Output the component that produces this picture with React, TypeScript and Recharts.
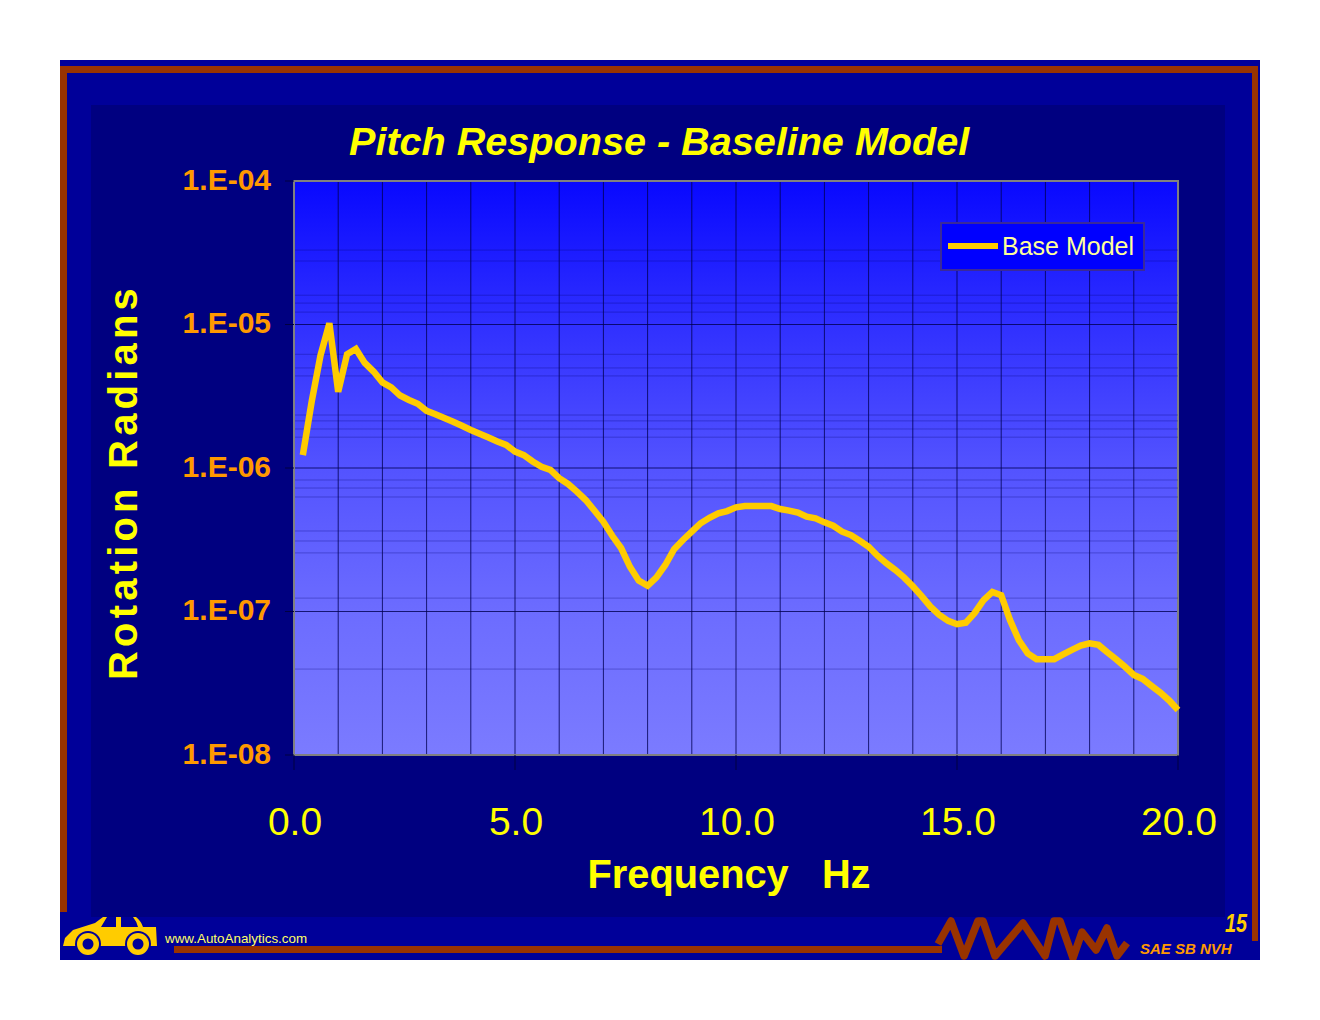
import React from 'react';
import { LineChart, Line, XAxis, YAxis, CartesianGrid, Legend, ReferenceLine, ReferenceArea, Label } from 'recharts';

const frequency = [
  0.2, 0.4, 0.6, 0.8, 1.0, 1.2, 1.4, 1.6, 1.8, 2.0,
  2.2, 2.4, 2.6, 2.8, 3.0, 3.2, 3.4, 3.6, 3.8, 4.0,
  4.2, 4.4, 4.6, 4.8, 5.0, 5.2, 5.4, 5.6, 5.8, 6.0,
  6.2, 6.4, 6.6, 6.8, 7.0, 7.2, 7.4, 7.6, 7.8, 8.0,
  8.2, 8.4, 8.6, 8.8, 9.0, 9.2, 9.4, 9.6, 9.8, 10.0,
  10.2, 10.4, 10.6, 10.8, 11.0, 11.2, 11.4, 11.6, 11.8, 12.0,
  12.2, 12.4, 12.6, 12.8, 13.0, 13.2, 13.4, 13.6, 13.8, 14.0,
  14.2, 14.4, 14.6, 14.8, 15.0, 15.2, 15.4, 15.6, 15.8, 16.0,
  16.2, 16.4, 16.6, 16.8, 17.0, 17.2, 17.4, 17.6, 17.8, 18.0,
  18.2, 18.4, 18.6, 18.8, 19.0, 19.2, 19.4, 19.6, 19.8, 20.0,
];

const baseModel = [
  1.23e-6, 2.9e-6, 6.1e-6, 1.02e-5, 3.4e-6, 6.2e-6, 6.75e-6, 5.4e-6, 4.7e-6, 3.95e-6,
  3.65e-6, 3.2e-6, 2.98e-6, 2.8e-6, 2.5e-6, 2.37e-6, 2.23e-6, 2.1e-6, 1.97e-6, 1.84e-6,
  1.73e-6, 1.63e-6, 1.53e-6, 1.45e-6, 1.3e-6, 1.23e-6, 1.11e-6, 1.02e-6, 9.7e-7, 8.5e-7,
  7.74e-7, 6.84e-7, 5.98e-7, 5.04e-7, 4.22e-7, 3.37e-7, 2.77e-7, 2.05e-7, 1.64e-7, 1.51e-7,
  1.73e-7, 2.11e-7, 2.72e-7, 3.15e-7, 3.6e-7, 4.12e-7, 4.5e-7, 4.83e-7, 5.01e-7, 5.32e-7,
  5.43e-7, 5.43e-7, 5.43e-7, 5.43e-7, 5.18e-7, 5.05e-7, 4.89e-7, 4.58e-7, 4.46e-7, 4.18e-7,
  3.96e-7, 3.6e-7, 3.41e-7, 3.11e-7, 2.83e-7, 2.45e-7, 2.17e-7, 1.95e-7, 1.73e-7, 1.5e-7,
  1.28e-7, 1.08e-7, 9.47e-8, 8.6e-8, 8.15e-8, 8.36e-8, 9.77e-8, 1.2e-7, 1.37e-7, 1.3e-7,
  8.7e-8, 6.3e-8, 5.11e-8, 4.65e-8, 4.65e-8, 4.65e-8, 5.02e-8, 5.4e-8, 5.78e-8, 6e-8,
  5.85e-8, 5.2e-8, 4.65e-8, 4.12e-8, 3.61e-8, 3.39e-8, 3.03e-8, 2.72e-8, 2.4e-8, 2.06e-8,
];

const xTicks = [0, 5, 10, 15, 20];
const xGrid = [1, 2, 3, 4, 5, 6, 7, 8, 9, 10, 11, 12, 13, 14, 15, 16, 17, 18, 19];
const yTicks = [1e-8, 1e-7, 1e-6, 1e-5, 1e-4];
const yTickLabels = ['1.E-08', '1.E-07', '1.E-06', '1.E-05', '1.E-04'];
const yMinorGrid = [
  3.3e-5, 2.77e-5, 1.6e-5, 1.41e-5, 1.22e-5,
  6.2e-6, 4.98e-6, 4.38e-6, 2.34e-6, 2.13e-6, 1.87e-6, 1.64e-6,
  8.25e-7, 7.25e-7, 6.28e-7, 3.64e-7, 3.1e-7, 2.56e-7, 1.24e-7,
  3.97e-8,
];

const chartData = frequency.map((f, i) => ({ f, base: baseModel[i] }));

const FONT = '"Liberation Sans", Arial, sans-serif';
const RUST = '#993300';
const SLIDE = '#000099';
const NAVY = '#000080';

// slide frame, zigzag and little car behind the chart
const SlideBackground = () => (
  <svg width={1320} height={1020} style={{ position: 'absolute', left: 0, top: 0 }}>
    <rect x={60} y={60} width={1200} height={900} fill={SLIDE} />
    <rect x={91} y={105} width={1134} height={812} fill={NAVY} />
    <rect x={60} y={66} width={1198} height={7} fill={RUST} />
    <rect x={60} y={66} width={7} height={846} fill={RUST} />
    <rect x={1252} y={66} width={6} height={875} fill={RUST} />
    <rect x={174} y={946} width={768} height={7} fill={RUST} />
    <svg x={60} y={60} width={1200} height={900}>
      <polyline
        transform="translate(-60 -60)"
        points="938,944 951,921 964,956 978,921 983,921 995,956 1023,923 1045,956 1054,921 1060,921 1073,958 1082,932 1096,950 1107,928 1117,956 1127,943"
        fill="none"
        stroke={RUST}
        strokeWidth={7.5}
        strokeLinejoin="round"
      />
    </svg>
    <g fill="#FFCC00">
      <path d="M63 946 L65 938 L73 930 L95 923 L103 917 L107 917 L101 927 L116 927 L116 917 L121 917 L121 927 L138 927 Q137 922 133 917 L136 917 Q141 921 143 927 L156 927 L157 946 Z" />
      <circle cx={88} cy={944} r={13} fill={SLIDE} />
      <circle cx={138} cy={944} r={13} fill={SLIDE} />
      <circle cx={88} cy={944} r={11} />
      <circle cx={138} cy={944} r={11} />
      <circle cx={88} cy={944} r={5.5} fill={SLIDE} />
      <circle cx={138} cy={944} r={5.5} fill={SLIDE} />
    </g>
    <text x={165} y={943} fontFamily={FONT} fontSize={13.4} fill="#FFFF66">www.AutoAnalytics.com</text>
    <text x={1225} y={932} fontFamily={FONT} fontSize={25} fontWeight="bold" fontStyle="italic" fill="#FFCC00" textLength={22} lengthAdjust="spacingAndGlyphs">15</text>
    <text x={1140} y={954} fontFamily={FONT} fontSize={15} fontWeight="bold" fontStyle="italic" fill="#FF9900">SAE SB NVH</text>
  </svg>
);

const LegendBox = () => (
  <div
    style={{
      width: 205,
      height: 49,
      boxSizing: 'border-box',
      background: '#0000FF',
      border: '2px solid #3A2A9A',
      position: 'relative',
      fontFamily: FONT,
    }}
  >
    <div style={{ position: 'absolute', left: 6, top: 19, width: 50, height: 6, background: '#FFCC00' }} />
    <div style={{ position: 'absolute', left: 60, top: 8, fontSize: 25, lineHeight: '29px', color: '#FFFF99', whiteSpace: 'nowrap' }}>
      Base Model
    </div>
  </div>
);

export default function App() {
  return (
    <div style={{ position: 'absolute', left: 0, top: 0, width: 1320, height: 1020, overflow: 'hidden', background: '#fff' }}>
      <SlideBackground />
      <div style={{ position: 'absolute', left: 0, top: 0 }}>
        <LineChart
          width={1320}
          height={1020}
          data={chartData}
          margin={{ top: 181, right: 142, left: 174, bottom: 165 }}
        >
          <defs>
            <linearGradient id="plotFill" x1="0" y1="0" x2="0" y2="1">
              <stop offset="0%" stopColor="#0808FF" />
              <stop offset="25%" stopColor="#3030FF" />
              <stop offset="50%" stopColor="#5353FF" />
              <stop offset="75%" stopColor="#6C6CFF" />
              <stop offset="100%" stopColor="#7B7BFF" />
            </linearGradient>
          </defs>
          <text x={349} y={155} fontFamily={FONT} fontSize={39.6} fontWeight="bold" fontStyle="italic" fill="#FFFF00">
            Pitch Response - Baseline Model
          </text>
          <CartesianGrid
            fill="url(#plotFill)"
            fillOpacity={1}
            stroke="#000050"
            strokeOpacity={0.8}
            verticalValues={xGrid}
            horizontalValues={yTicks}
            syncWithTicks={false}
          />
          {yMinorGrid.map((v) => (
            <ReferenceLine key={v} y={v} stroke="#000070" strokeOpacity={0.3} />
          ))}
          <ReferenceArea x1={0} x2={20} y1={1e-8} y2={1e-4} fill="none" stroke="#808080" strokeWidth={2} />
          <XAxis
            dataKey="f"
            type="number"
            domain={[0, 20]}
            ticks={xTicks}
            interval={0}
            height={100}
            tickFormatter={(v: number) => v.toFixed(1)}
            axisLine={{ stroke: '#808080', strokeWidth: 2 }}
            tickLine={{ stroke: '#000040' }}
            tickSize={15}
            tickMargin={37}
            tick={{ fill: '#FFFF00', fontSize: 39, fontFamily: FONT, dx: 1 }}
          >
            <Label
              value={'Frequency\u00A0\u00A0\u00A0Hz'}
              position="center"
              dx={-7}
              dy={69}
              style={{ fill: '#FFFF00', fontSize: 39.8, fontWeight: 'bold', fontFamily: FONT }}
            />
          </XAxis>
          <YAxis
            type="number"
            scale="log"
            domain={[1e-8, 1e-4]}
            ticks={yTicks}
            interval={0}
            allowDataOverflow
            width={120}
            tickFormatter={(v: number) => yTickLabels[yTicks.indexOf(v)]}
            axisLine={{ stroke: '#808080', strokeWidth: 2 }}
            tickLine={{ stroke: '#000040' }}
            tickSize={9}
            tickMargin={14}
            tick={{ fill: '#FF9900', fontSize: 30, fontWeight: 'bold', fontFamily: FONT, dy: -2 }}
          >
            <Label
              value="Rotation Radians"
              position="center"
              angle={-90}
              dx={-111}
              dy={14}
              style={{ fill: '#FFFF00', fontSize: 40, fontWeight: 'bold', fontFamily: FONT, letterSpacing: 4.2 }}
            />
          </YAxis>
          <Legend
            verticalAlign="middle"
            content={() => <LegendBox />}
            wrapperStyle={{ left: 940, top: 222, width: 205, height: 49 }}
          />
          <Line
            type="linear"
            dataKey="base"
            name="Base Model"
            stroke="#FFCC00"
            strokeWidth={6.5}
            strokeLinejoin="miter"
            dot={false}
            isAnimationActive={false}
          />
        </LineChart>
      </div>
    </div>
  );
}
